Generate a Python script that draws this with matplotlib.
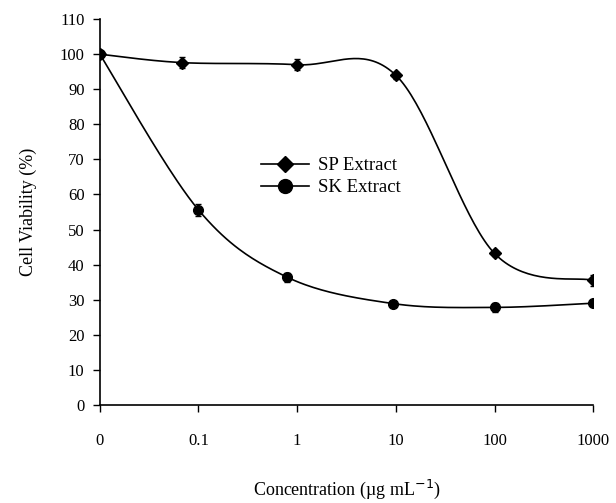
import numpy as np
import matplotlib.pyplot as plt

plt.rcParams['font.family'] = ['Liberation Serif', 'DejaVu Serif']

tick_labels = ['0', '0.1', '1', '10', '100', '1000']

sp_x = [0, 0.83, 2, 3, 4, 5]
sp_y = [100, 97.6, 97.0, 94.0, 43.2, 35.5]
sp_err = [0.5, 1.5, 1.5, 1.0, 0.6, 1.5]

sk_x = [0, 1, 1.9, 2.97, 4, 5]
sk_y = [100, 55.6, 36.4, 28.9, 27.8, 29.0]
sk_err = [0.5, 1.6, 1.3, 0.6, 1.3, 0.6]


def smooth(xs, ys, n=40):
    # excel-style bezier smoothing through the points
    p = np.column_stack([xs, ys]).astype(float)
    p = np.vstack([p[0], p, p[-1]])
    out = []
    for i in range(1, len(p) - 2):
        p0, p1, p2, p3 = p[i - 1], p[i], p[i + 1], p[i + 2]
        c1 = p1 + (p2 - p0) / 6
        c2 = p2 - (p3 - p1) / 6
        t = np.linspace(0, 1, n)[:, None]
        seg = (1 - t) ** 3 * p1 + 3 * (1 - t) ** 2 * t * c1 + 3 * (1 - t) * t ** 2 * c2 + t ** 3 * p2
        out.append(seg)
    out = np.vstack(out)
    return out[:, 0], out[:, 1]


fig = plt.figure(figsize=(6.16, 5.03), dpi=100)
ax = fig.add_axes([0.162, 0.195, 0.801, 0.767])

for xs, ys, err, m, lab in [(sp_x, sp_y, sp_err, 'D', 'SP Extract'),
                            (sk_x, sk_y, sk_err, 'o', 'SK Extract')]:
    cx, cy = smooth(xs, ys)
    ax.plot(cx, cy, color='black', lw=1.2, zorder=2)
    ax.errorbar(xs, ys, yerr=err, fmt='none', ecolor='black', elinewidth=1, capsize=2.5, zorder=3)
    ax.plot(xs, ys, linestyle='none', marker=m, color='black',
            markersize=6 if m == 'D' else 7, zorder=4)
    ax.plot([], [], color='black', lw=1.2, marker=m,
            markersize=8 if m == 'D' else 10, label=lab)

ax.set_xlim(0, 5)
ax.set_ylim(0, 110)
ax.set_xticks(range(6))
ax.set_xticklabels(tick_labels)
ax.set_yticks(range(0, 111, 10))
ax.spines['top'].set_visible(False)
ax.spines['right'].set_visible(False)
ax.spines['left'].set_linewidth(1.2)
ax.spines['bottom'].set_linewidth(1.2)
ax.tick_params(labelsize=12, length=5, width=1)
ax.tick_params(axis='x', pad=15)
ax.tick_params(axis='y', pad=6)
ax.set_xlabel('Concentration (\u00b5g mL$^{-1}$)', fontsize=13, labelpad=21)
ax.set_ylabel('Cell Viability (%)', fontsize=13, labelpad=16)
ax.legend(loc='upper left', bbox_to_anchor=(0.3266, 0.642), frameon=False,
          fontsize=13.5, handlelength=2.56, handletextpad=0.48, labelspacing=0.25,
          borderpad=0, borderaxespad=0)

fig.savefig('out.png', dpi=100)
